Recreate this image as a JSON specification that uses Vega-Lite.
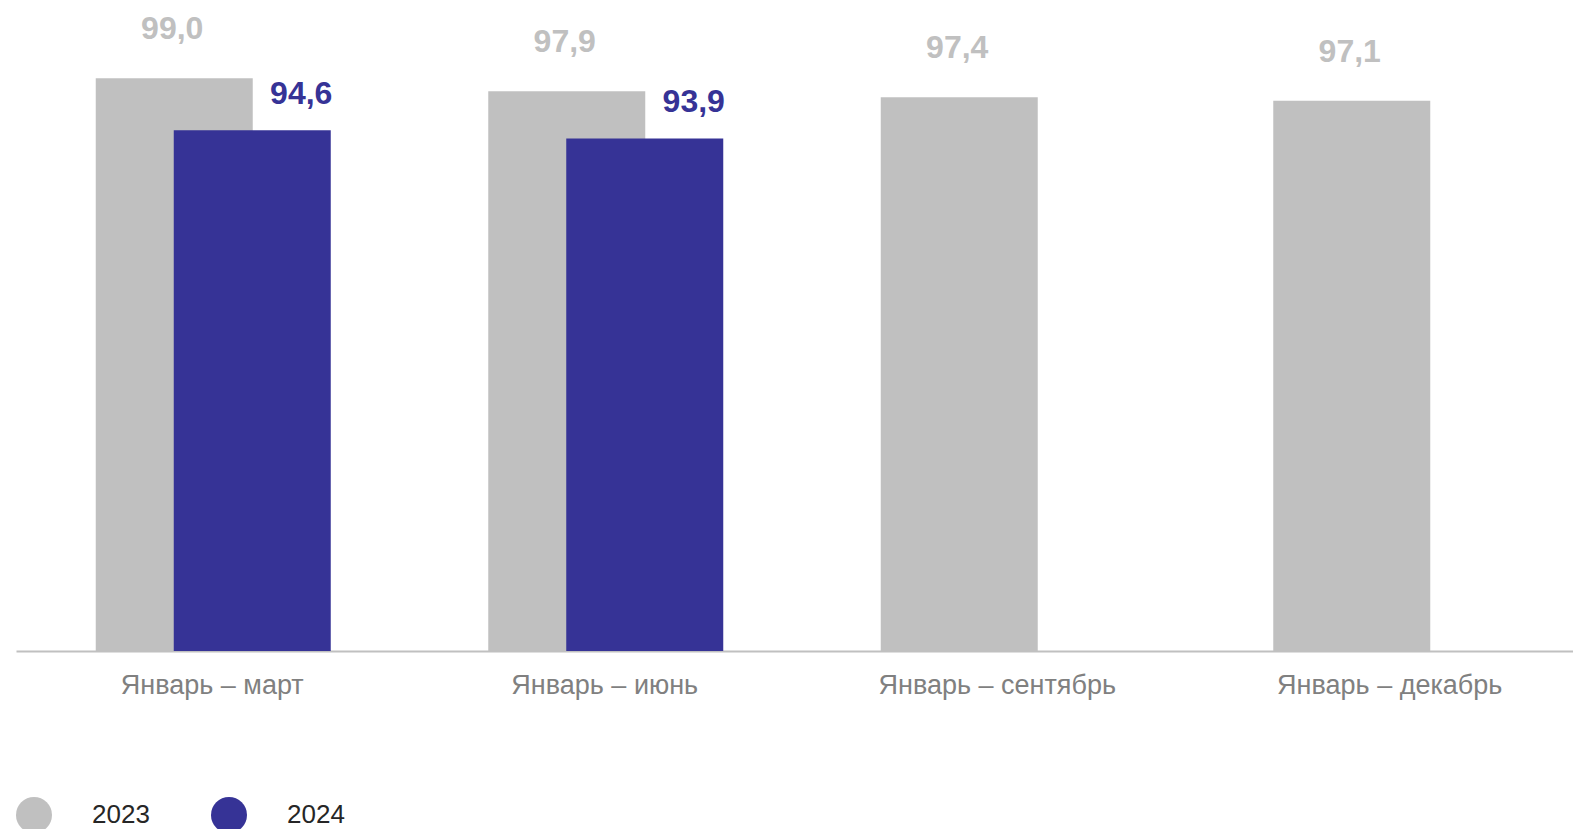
{
  "$schema": "https://vega.github.io/schema/vega-lite/v6.json",
  "width": 1557,
  "height": 651,
  "autosize": {"type": "none"},
  "padding": {"left": 16, "top": 0, "right": 0, "bottom": 178},
  "background": "white",
  "config": {
    "view": {"stroke": null},
    "font": "Liberation Sans",
    "locale": {"number": {"decimal": ",", "thousands": " ", "grouping": [3], "currency": ["", " ₽"]}}
  },
  "data": {
    "values": [
      {"period": "Январь – март", "year": "2023", "value": 99.0},
      {"period": "Январь – июнь", "year": "2023", "value": 97.9},
      {"period": "Январь – сентябрь", "year": "2023", "value": 97.4},
      {"period": "Январь – декабрь", "year": "2023", "value": 97.1},
      {"period": "Январь – март", "year": "2024", "value": 94.6},
      {"period": "Январь – июнь", "year": "2024", "value": 93.9}
    ]
  },
  "encoding": {
    "x": {
      "field": "period",
      "type": "nominal",
      "sort": ["Январь – март", "Январь – июнь", "Январь – сентябрь", "Январь – декабрь"],
      "scale": {"paddingInner": 0, "paddingOuter": 0, "range": [0, 1570]},
      "axis": {
        "title": null,
        "labelAngle": 0,
        "labelFont": "Liberation Sans",
        "labelFontSize": 27,
        "labelColor": "#808080",
        "labelPadding": 21,
        "labelLimit": 0,
        "ticks": false,
        "domainColor": "#c0c0c0",
        "domainWidth": 2,
        "grid": false
      }
    },
    "y": {
      "field": "value",
      "type": "quantitative",
      "scale": {"domain": [50.4, 105.65], "nice": false, "zero": false},
      "axis": null
    }
  },
  "layer": [
    {
      "transform": [{"filter": "datum.year == '2023'"}],
      "mark": {"type": "bar", "width": 157, "xOffset": -38},
      "encoding": {
        "y2": {"datum": 50.4},
        "color": {
          "field": "year",
          "type": "nominal",
          "scale": {"domain": ["2023", "2024"], "range": ["#c0c0c0", "#363396"]},
          "legend": {
            "orient": "none",
            "legendX": 0,
            "legendY": 797,
            "direction": "horizontal",
            "title": null,
            "symbolType": "circle",
            "symbolSize": 1296,
            "symbolStrokeWidth": 0,
            "symbolOpacity": 1,
            "labelFont": "Liberation Sans",
            "labelFontSize": 26,
            "labelColor": "#262626",
            "labelOffset": 40,
            "columnPadding": 61
          }
        }
      }
    },
    {
      "transform": [{"filter": "datum.year == '2024'"}],
      "mark": {"type": "bar", "width": 157, "xOffset": 40},
      "encoding": {
        "y2": {"datum": 50.4},
        "color": {"field": "year", "type": "nominal"}
      }
    },
    {
      "transform": [{"filter": "datum.year == '2023'"}],
      "mark": {"type": "text", "xOffset": -40, "dy": -49, "baseline": "middle", "fontSize": 32, "fontWeight": "bold", "font": "Liberation Sans", "color": "#c0c0c0"},
      "encoding": {"text": {"field": "value", "type": "quantitative", "format": ".1f"}}
    },
    {
      "transform": [{"filter": "datum.year == '2024'"}],
      "mark": {"type": "text", "xOffset": 89, "dy": -36, "baseline": "middle", "fontSize": 32, "fontWeight": "bold", "font": "Liberation Sans", "color": "#363396"},
      "encoding": {"text": {"field": "value", "type": "quantitative", "format": ".1f"}}
    }
  ]
}
